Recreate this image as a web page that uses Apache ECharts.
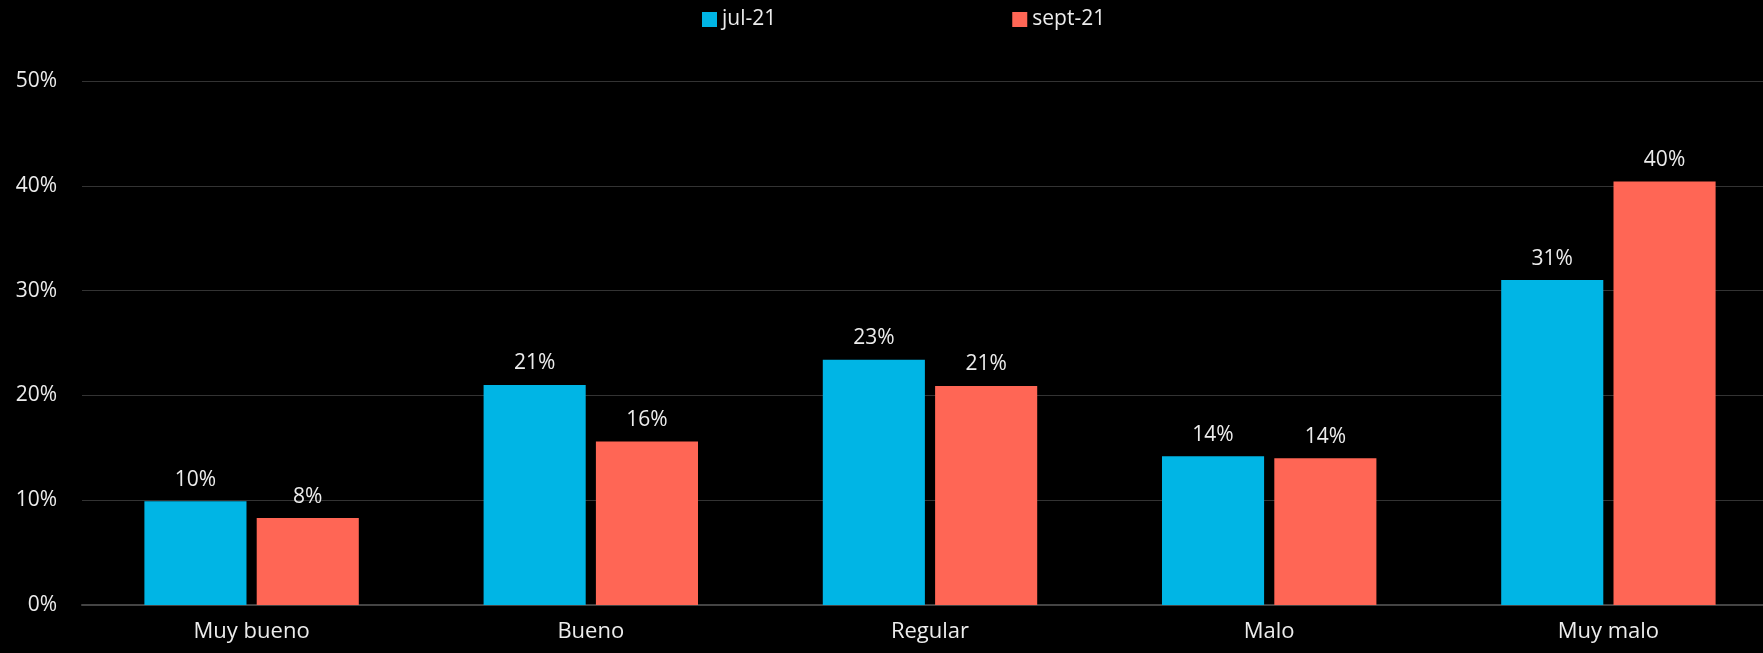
<!DOCTYPE html>
<html>
<head>
<meta charset="utf-8">
<script src="https://cdn.jsdelivr.net/npm/echarts@6/dist/echarts.min.js"></script>
<style>
    html, body { margin: 0; padding: 0; background: #000; overflow: hidden; }
    /* el grafico original corta las lineas en el borde derecho */
    #chart { width: 1778px; height: 653px; }
</style>
</head>
<body>
<div id="chart"></div>
<script>
    // categorias y valores (%)
    var categorias = ['Muy bueno', 'Bueno', 'Regular', 'Malo', 'Muy malo'];
    var jul21 = [9.9, 21.0, 23.4, 14.2, 31.0];
    var sept21 = [8.3, 15.6, 20.9, 14.0, 40.4];
    var series_nombres = ['jul-21', 'sept-21'];

    var myChart = echarts.init(document.getElementById('chart'));
    var fuente = '"Open Sans", Lato, sans-serif';

    var etiqueta = {
        show: true,
        position: 'top',
        distance: 11,
        color: '#ececec',
        fontSize: 21,
        fontFamily: fuente,
        formatter: function (p) { return Math.round(p.value) + '%'; }
    };

    var option = {
        backgroundColor: '#000',
        color: ['#00b5e5', '#ff6655'],
        legend: {
            top: 4,
            left: 697,
            itemWidth: 15,
            itemHeight: 15,
            itemGap: 236,
            icon: 'rect',
            textStyle: { color: '#ececec', fontSize: 21, fontFamily: fuente },
            data: series_nombres
        },
        grid: {
            left: 82,
            right: 0,
            top: 81,
            bottom: 48,
            containLabel: false
        },
        xAxis: {
            type: 'category',
            data: categorias,
            axisTick: { show: false },
            axisLine: { lineStyle: { color: '#444', width: 2 } },
            axisLabel: { color: '#ececec', fontSize: 22, fontFamily: fuente, margin: 16 }
        },
        yAxis: {
            type: 'value',
            min: 0,
            max: 50,
            interval: 10,
            axisLabel: { color: '#ececec', fontSize: 21, fontFamily: fuente, margin: 25, formatter: '{value}%' },
            splitLine: { lineStyle: { color: '#333', width: 1 } }
        },
        series: [
            {
                name: series_nombres[0],
                type: 'bar',
                data: jul21,
                barWidth: '30.1%',
                barGap: '10%',
                label: etiqueta
            },
            {
                name: series_nombres[1],
                type: 'bar',
                data: sept21,
                barWidth: '30.1%',
                barGap: '10%',
                label: etiqueta
            }
        ]
    };

    myChart.setOption(option);
</script>
</body>
</html>
